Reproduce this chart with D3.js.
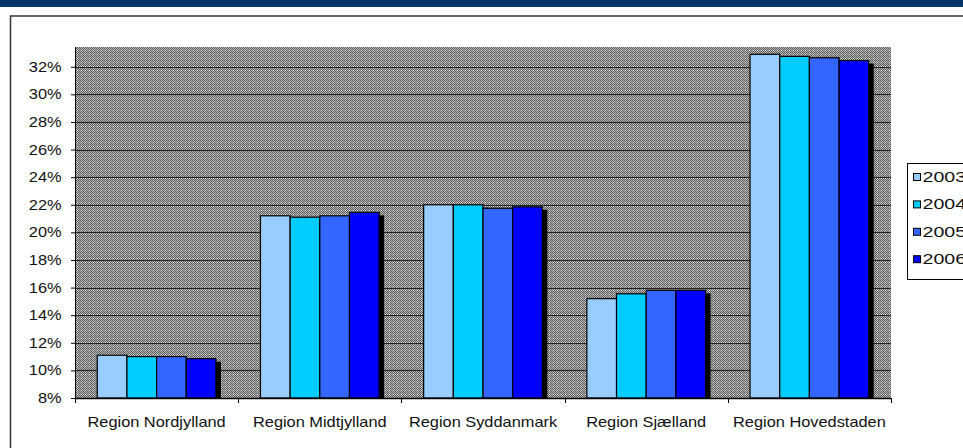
<!DOCTYPE html>
<html>
<head>
<meta charset="utf-8">
<script src="https://cdn.jsdelivr.net/npm/d3@7"></script>
<style>
  body { margin: 0; background: #fff; }
  svg { display: block; }
  text { font-family: Arial, "Liberation Sans", sans-serif; fill: #111; }
</style>
</head>
<body>
<div id="chart"></div>
<script>
// data (percent)
var regions = ['Region Nordjylland', 'Region Midtjylland', 'Region Syddanmark', 'Region Sjælland', 'Region Hovedstaden'];
var years = ['2003', '2004', '2005', '2006'];
var v2003 = [11.1, 21.2, 22.0, 15.2, 32.9];
var v2004 = [11.0, 21.1, 22.0, 15.55, 32.75];
var v2005 = [11.0, 21.2, 21.75, 15.8, 32.65];
var v2006 = [10.85, 21.45, 21.85, 15.8, 32.45];
var yTicks = [8, 10, 12, 14, 16, 18, 20, 22, 24, 26, 28, 30, 32];
var colors = ['#99ccff', '#00ccff', '#3366ff', '#0000ff'];

var series = [v2003, v2004, v2005, v2006];

var W = 963, H = 448;
var plot = { left: 75, right: 891, top: 47, bottom: 398 };
var SX = 1.17; // text in the picture is stretched sideways

var svg = d3.select('#chart').append('svg')
  .attr('width', W)
  .attr('height', H);

// dithered grey fill of the plot area
var defs = svg.append('defs');
var pat = defs.append('pattern')
  .attr('id', 'dither')
  .attr('width', 4)
  .attr('height', 4)
  .attr('patternUnits', 'userSpaceOnUse');
pat.append('rect').attr('width', 4).attr('height', 4).attr('fill', '#b4b4b4');
[[0, 0], [2, 0], [1, 1], [3, 1], [0, 2], [2, 2], [1, 3], [3, 3]].forEach(function (p) {
  pat.append('rect').attr('x', p[0]).attr('y', p[1]).attr('width', 1).attr('height', 1).attr('fill', '#5e5e5e');
});
pat.append('rect').attr('x', 1).attr('y', 2).attr('width', 1).attr('height', 1).attr('fill', '#ffffff');

// header band and chart frame
svg.append('rect')
  .attr('x', 0).attr('y', 0)
  .attr('width', W).attr('height', 7)
  .attr('fill', '#003366');

svg.append('rect')
  .attr('x', 10.5).attr('y', 16)
  .attr('width', W).attr('height', H)
  .attr('fill', '#fff')
  .attr('stroke', '#333')
  .attr('stroke-width', 1.5);

var x = d3.scaleBand()
  .domain(regions)
  .range([plot.left, plot.right]);

var bw = x.bandwidth() / 5.5; // gap width 150%
var x1 = d3.scaleBand()
  .domain(years)
  .range([bw * 0.75, x.bandwidth() - bw * 0.75]);

var y = d3.scaleLinear()
  .domain([8, 33.43])
  .range([plot.bottom, plot.top]);

svg.append('rect')
  .attr('x', plot.left).attr('y', plot.top)
  .attr('width', plot.right - plot.left)
  .attr('height', plot.bottom - plot.top)
  .attr('fill', 'url(#dither)')
  .attr('shape-rendering', 'crispEdges');

// gridlines
svg.append('g')
  .selectAll('line')
  .data(yTicks.slice(1))
  .enter()
  .append('line')
  .attr('x1', plot.left)
  .attr('x2', plot.right)
  .attr('y1', function (d) { return Math.round(y(d)) + 0.5; })
  .attr('y2', function (d) { return Math.round(y(d)) + 0.5; })
  .attr('stroke', '#222')
  .attr('stroke-width', 1);

// bars
var cells = [];
regions.forEach(function (r, i) {
  years.forEach(function (yr, j) {
    cells.push({ region: r, year: yr, value: series[j][i], color: colors[j] });
  });
});

var bars = svg.append('g');

bars.selectAll('rect.shadow')
  .data(cells)
  .enter()
  .append('rect')
  .attr('class', 'shadow')
  .attr('x', function (d) { return x(d.region) + x1(d.year) + 5; })
  .attr('y', function (d) { return y(d.value) + 3; })
  .attr('width', x1.bandwidth())
  .attr('height', function (d) { return Math.max(0, plot.bottom - y(d.value) - 3); })
  .attr('fill', '#000');

bars.selectAll('rect.bar')
  .data(cells)
  .enter()
  .append('rect')
  .attr('class', 'bar')
  .attr('x', function (d) { return x(d.region) + x1(d.year); })
  .attr('y', function (d) { return y(d.value); })
  .attr('width', x1.bandwidth())
  .attr('height', function (d) { return plot.bottom - y(d.value); })
  .attr('fill', function (d) { return d.color; })
  .attr('stroke', '#000')
  .attr('stroke-width', 1.2);

// y axis
var yAxis = svg.append('g')
  .attr('transform', 'translate(' + plot.left + ',0)')
  .call(d3.axisLeft(y)
    .tickValues(yTicks)
    .tickSize(4)
    .tickPadding(7.5)
    .tickFormat(function (d) { return d + '%'; }));
yAxis.select('.domain').attr('stroke', '#000').attr('d', 'M0.5,' + plot.top + 'V' + plot.bottom);
yAxis.selectAll('.tick line').attr('stroke', '#000');
yAxis.selectAll('.tick text')
  .attr('font-size', 14)
  .attr('fill', '#111')
  .attr('font-family', 'Arial, "Liberation Sans", sans-serif')
  .attr('transform', 'scale(' + SX + ',1)');

// x axis: line, ticks at category boundaries, labels centred
var bounds = regions.map(function (r) { return x(r); }).concat([x.range()[1]]);
svg.append('line')
  .attr('x1', plot.left).attr('x2', plot.right)
  .attr('y1', plot.bottom + 0.5).attr('y2', plot.bottom + 0.5)
  .attr('stroke', '#000')
  .attr('stroke-width', 1.5);
svg.append('g')
  .selectAll('line')
  .data(bounds)
  .enter()
  .append('line')
  .attr('x1', function (d) { return Math.round(d) + 0.5; })
  .attr('x2', function (d) { return Math.round(d) + 0.5; })
  .attr('y1', plot.bottom)
  .attr('y2', plot.bottom + 5)
  .attr('stroke', '#000');

svg.append('g')
  .selectAll('text')
  .data(regions)
  .enter()
  .append('text')
  .attr('transform', function (d) {
    return 'translate(' + (x(d) + x.bandwidth() / 2) + ',427) scale(' + SX + ',1)';
  })
  .attr('text-anchor', 'middle')
  .attr('font-size', 14)
  .text(function (d) { return d; });

// legend
var legend = svg.append('g');
legend.append('rect')
  .attr('x', 907.5).attr('y', 163.5)
  .attr('width', 80).attr('height', 116)
  .attr('fill', '#fff')
  .attr('stroke', '#000');

var items = legend.selectAll('g.item')
  .data(years)
  .enter()
  .append('g')
  .attr('class', 'item')
  .attr('transform', function (d, i) { return 'translate(913,' + (177 + i * 27.4) + ')'; });

items.append('rect')
  .attr('x', 0.5).attr('y', -3.5)
  .attr('width', 7).attr('height', 7)
  .attr('fill', function (d, i) { return colors[i]; })
  .attr('stroke', '#000');

items.append('text')
  .attr('transform', 'translate(9.5,5) scale(1.4,1)')
  .attr('font-size', 14)
  .text(function (d) { return d; });
</script>
</body>
</html>
